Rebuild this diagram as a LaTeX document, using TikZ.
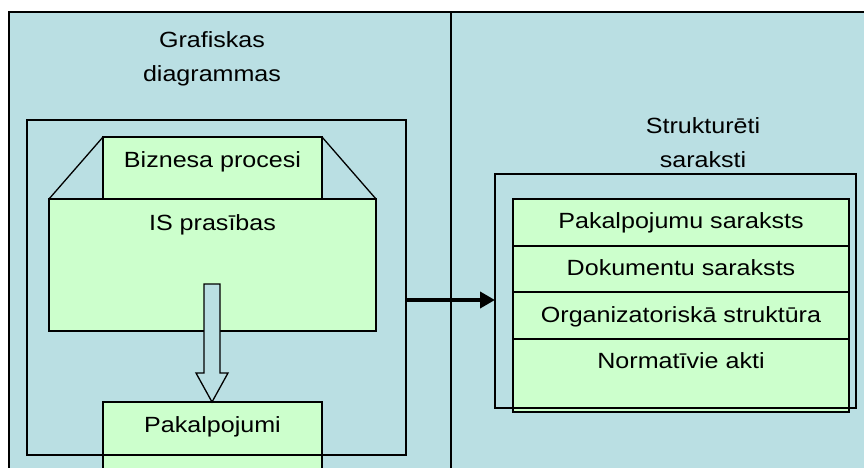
\documentclass[tikz,border=0pt]{standalone}
\usepackage{fontspec}
\setmainfont[FakeStretch=1.14]{Liberation Sans}
\usetikzlibrary{arrows.meta}
\definecolor{panelblue}{RGB}{186,223,227}
\definecolor{boxgreen}{RGB}{204,255,204}
\tikzset{
  outline/.style={draw=black, line width=1.3pt},
  greenbox/.style={outline, fill=boxgreen},
  label/.style={font=\fontsize{22}{34}\selectfont, inner sep=0pt, anchor=base, align=center},
  bigarrow/.style={line width=4pt, -{Triangle[length=15pt, width=16pt]}},
  blockarrow/.style={outline, fill=panelblue, line join=miter},
}
\begin{document}
\begin{tikzpicture}[x=1pt, y=-1pt]
\useasboundingbox (0,0) rectangle (864,468);
% background panel and divider
\fill[white] (0,0) rectangle (864,468);
\draw[outline, fill=panelblue] (9,12) rectangle (868,475);
\draw[outline] (451,12) -- (451,475);

% left panel: graphical diagrams
\node[label] (grafLabel) at (212,82) {Grafiskas\\diagrammas};
\coordinate (lfNW) at (27,120);
\coordinate (lfSE) at (406,455);
\node[minimum width=379pt, minimum height=335pt, inner sep=0pt, anchor=north west] (leftframe) at (lfNW) {};

\draw[greenbox] (103,137) rectangle (322,199);
\node[label] (bp) at (212.5,167) {Biznesa procesi};
\draw[outline] (49,199) -- (103,137);
\draw[outline] (376,199) -- (322,137);
\draw[greenbox] (49,199) rectangle (376,331);
\node[label] (isp) at (212.5,230) {IS prasības};

\draw[greenbox] (103,402) rectangle (322,480);
\node[label] (pak) at (212.5,432) {Pakalpojumi};

% hollow block arrow from requirements to services
\draw[blockarrow] (204,284) -- (220,284) -- (220,373) -- (228,373) -- (212,402) -- (196,373) -- (204,373) -- cycle;

\draw[outline] (lfNW) rectangle (lfSE);

% right panel: structured lists
\node[label] (strLabel) at (703,167) {Strukturēti\\saraksti};
\coordinate (rfNW) at (495,174);
\coordinate (rfSE) at (856,408);
\node[minimum width=361pt, minimum height=234pt, inner sep=0pt, anchor=north west] (rightframe) at (rfNW) {};

\draw[greenbox] (513,199) rectangle (849,412);
\draw[outline] (513,246) -- (849,246);
\draw[outline] (513,292) -- (849,292);
\draw[outline] (513,339) -- (849,339);
\node[label] (r1) at (681,228) {Pakalpojumu saraksts};
\node[label] (r2) at (681,275) {Dokumentu saraksts};
\node[label] (r3) at (681,322) {Organizatoriskā struktūra};
\node[label] (r4) at (681,368) {Normatīvie akti};

\draw[outline] (rfNW) rectangle (rfSE);

% connector between the two frames
\coordinate (arrowy) at (0,300);
\draw[bigarrow] (leftframe.east |- arrowy) -- (rightframe.west |- arrowy);
\end{tikzpicture}
\end{document}
